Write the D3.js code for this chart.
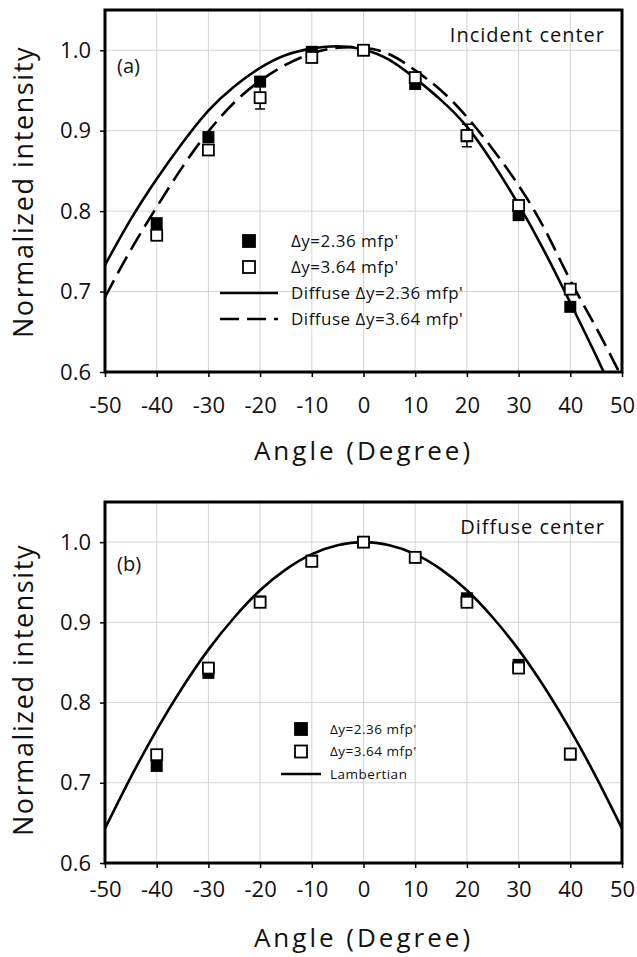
<!DOCTYPE html>
<html>
<head>
<meta charset="utf-8">
<script src="https://cdn.jsdelivr.net/npm/d3@7"></script>
<style>
  body { margin: 0; background: #fff; }
  text { font-family: "Open Sans", "DejaVu Sans", sans-serif; fill: #111; }
  .grid line { stroke: #d4d4d4; stroke-width: 1; }
</style>
</head>
<body>
<svg id="chart" width="637" height="957"></svg>
<script>
// measured angles
const angles = [-40, -30, -20, -10, 0, 10, 20, 30, 40];
// curve sample angles
const curveAngles = [-50, -45, -40, -35, -30, -25, -20, -15, -10, -5, 0, 5, 10, 15, 20, 25, 30, 35, 40, 45, 50];
const yTicks = [0.6, 0.7, 0.8, 0.9, 1.0];
const xTicks = [-50, -40, -30, -20, -10, 0, 10, 20, 30, 40, 50];

// panel (a): incident center
const aFilled = [0.785, 0.892, 0.961, 0.998, 1.000, 0.958, 0.893, 0.795, 0.681];
const aOpen = [0.770, 0.876, 0.941, 0.991, 1.000, 0.966, 0.894, 0.807, 0.703];
const aOpenErr = [0, 0, 0.014, 0, 0, 0, 0.014, 0, 0];
const aDiffuse236 = [0.733, 0.790, 0.840, 0.885, 0.925, 0.955, 0.978, 0.994, 1.002, 1.005, 1.001,
                     0.988, 0.965, 0.938, 0.905, 0.860, 0.808, 0.750, 0.686, 0.620, 0.550];
const aDiffuse364 = [0.693, 0.752, 0.805, 0.855, 0.899, 0.935, 0.962, 0.982, 0.996, 1.003, 1.003,
                     0.995, 0.975, 0.950, 0.917, 0.877, 0.832, 0.778, 0.714, 0.655, 0.593];

// panel (b): diffuse center
const bFilled = [0.721, 0.837, 0.926, 0.977, 1.000, 0.981, 0.930, 0.847, 0.735];
const bOpen = [0.735, 0.843, 0.925, 0.976, 1.000, 0.981, 0.925, 0.843, 0.736];
const lambertian = [0.643, 0.707, 0.766, 0.819, 0.866, 0.906, 0.940, 0.966, 0.985, 0.996, 1.000,
                    0.996, 0.985, 0.966, 0.940, 0.906, 0.866, 0.819, 0.766, 0.707, 0.643];

const svg = d3.select("#chart");

function drawPanel(opts) {
    const left = 105, right = 622;
    const top = opts.top, bottom = opts.bottom;

    const x = d3.scaleLinear().domain([-50, 50]).range([left, right]);
    const y = d3.scaleLinear().domain([0.6, 1.05]).range([bottom, top]);

    const g = svg.append("g");

    g.append("clipPath").attr("id", opts.id + "-clip")
        .append("rect")
        .attr("x", left).attr("y", top)
        .attr("width", right - left).attr("height", bottom - top);

    // grid
    const grid = g.append("g").attr("class", "grid");
    grid.selectAll(".gx").data(xTicks.slice(1, -1)).enter().append("line")
        .attr("x1", d => x(d)).attr("x2", d => x(d))
        .attr("y1", top).attr("y2", bottom);
    grid.selectAll(".gy").data(yTicks.slice(1)).enter().append("line")
        .attr("x1", left).attr("x2", right)
        .attr("y1", d => y(d)).attr("y2", d => y(d));

    // axes
    g.append("g")
        .attr("transform", `translate(0,${bottom})`)
        .call(d3.axisBottom(x).tickValues(xTicks).tickSize(5).tickPadding(opts.xPad).tickFormat(d => String(d)))
        .call(a => a.select(".domain").remove())
        .call(a => a.selectAll("line").attr("stroke", "#000").attr("stroke-width", 1.5))
        .call(a => a.selectAll("text").style("font-size", "22px").attr("fill", "#111"));

    g.append("g")
        .attr("transform", `translate(${left},0)`)
        .call(d3.axisLeft(y).tickValues(yTicks).tickSize(5).tickPadding(9).tickFormat(d3.format(".1f")))
        .call(a => a.select(".domain").remove())
        .call(a => a.selectAll("line").attr("stroke", "#000").attr("stroke-width", 1.5))
        .call(a => a.selectAll("text").style("font-size", "22px").attr("fill", "#111"));

    // curves
    const line = d3.line()
        .x((d, i) => x(curveAngles[i]))
        .y(d => y(d))
        .curve(d3.curveNatural);

    const curves = g.append("g").attr("clip-path", `url(#${opts.id}-clip)`);
    opts.curves.forEach(c => {
        curves.append("path")
            .datum(c.values)
            .attr("d", line)
            .attr("fill", "none")
            .attr("stroke", "#000")
            .attr("stroke-width", 2.6)
            .attr("stroke-dasharray", c.dash || null);
    });

    // error bars
    if (opts.openErr) {
        const eb = g.append("g");
        angles.forEach((a, i) => {
            const e = opts.openErr[i];
            if (!e) return;
            const v = opts.open[i];
            eb.append("line")
                .attr("x1", x(a)).attr("x2", x(a))
                .attr("y1", y(v - e)).attr("y2", y(v + e))
                .attr("stroke", "#000").attr("stroke-width", 1.5);
            [v - e, v + e].forEach(t => {
                eb.append("line")
                    .attr("x1", x(a) - 5).attr("x2", x(a) + 5)
                    .attr("y1", y(t)).attr("y2", y(t))
                    .attr("stroke", "#000").attr("stroke-width", 1.5);
            });
        });
    }

    // markers
    const s = 12;
    g.selectAll(".filled").data(opts.filled).enter().append("rect")
        .attr("x", (d, i) => x(angles[i]) - s / 2)
        .attr("y", d => y(d) - s / 2)
        .attr("width", s).attr("height", s)
        .attr("fill", "#000");

    g.selectAll(".open").data(opts.open).enter().append("rect")
        .attr("x", (d, i) => x(angles[i]) - s / 2 + 0.5)
        .attr("y", d => y(d) - s / 2 + 0.5)
        .attr("width", s - 1).attr("height", s - 1)
        .attr("fill", "#fff").attr("stroke", "#000").attr("stroke-width", 1.8);

    // frame
    g.append("rect")
        .attr("x", left).attr("y", top)
        .attr("width", right - left).attr("height", bottom - top)
        .attr("fill", "none").attr("stroke", "#000").attr("stroke-width", 3);

    // labels
    g.append("text")
        .attr("x", 117).attr("y", top + opts.tagDy)
        .style("font-size", "20px")
        .text(opts.tag);

    g.append("text")
        .attr("x", 605).attr("y", top + 32)
        .attr("text-anchor", "end")
        .style("font-size", "20px")
        .style("letter-spacing", "1px")
        .text(opts.title);

    g.append("text")
        .attr("x", (left + right) / 2).attr("y", bottom + opts.titleDy)
        .attr("text-anchor", "middle")
        .style("font-size", "26px")
        .style("letter-spacing", "3px")
        .text("Angle (Degree)");

    g.append("text")
        .attr("transform", `translate(33,${top + opts.yTitleDy}) rotate(-90)`)
        .attr("text-anchor", "middle")
        .style("font-size", "27px")
        .style("letter-spacing", "1.6px")
        .text("Normalized intensity");

    // legend
    const lg = g.append("g");
    const L = opts.legend;
    L.items.forEach((it, i) => {
        const cy = L.y + i * L.step;
        if (it.type === "filled" || it.type === "open") {
            lg.append("rect")
                .attr("x", L.symX - s / 2).attr("y", cy - s / 2)
                .attr("width", s).attr("height", s)
                .attr("fill", it.type === "filled" ? "#000" : "#fff")
                .attr("stroke", "#000").attr("stroke-width", 1.8);
        } else {
            lg.append("line")
                .attr("x1", L.lineX1).attr("x2", L.lineX2)
                .attr("y1", cy).attr("y2", cy)
                .attr("stroke", "#000").attr("stroke-width", 2.6)
                .attr("stroke-dasharray", it.dash || null);
        }
        lg.append("text")
            .attr("x", L.textX).attr("y", cy)
            .attr("dy", "0.35em")
            .style("font-size", L.fontSize)
            .style("letter-spacing", "0.5px")
            .text(it.label);
    });
}

drawPanel({
    id: "pa", top: 10, bottom: 372, tag: "(a)", tagDy: 63, title: "Incident center",
    xPad: 20, titleDy: 88, yTitleDy: 182,
    filled: aFilled, open: aOpen, openErr: aOpenErr,
    curves: [{ values: aDiffuse236 }, { values: aDiffuse364, dash: "19,8" }],
    legend: {
        y: 241, step: 26, symX: 249, lineX1: 220, lineX2: 278, textX: 291, fontSize: "17px",
        items: [
            { type: "filled", label: "\u0394y=2.36 mfp'" },
            { type: "open", label: "\u0394y=3.64 mfp'" },
            { type: "line", label: "Diffuse \u0394y=2.36 mfp'" },
            { type: "line", dash: "19,8", label: "Diffuse \u0394y=3.64 mfp'" }
        ]
    }
});

drawPanel({
    id: "pb", top: 502, bottom: 863, tag: "(b)", tagDy: 69, title: "Diffuse center",
    xPad: 13, titleDy: 84, yTitleDy: 188,
    filled: bFilled, open: bOpen, openErr: null,
    curves: [{ values: lambertian }],
    legend: {
        y: 729, step: 22.5, symX: 301, lineX1: 281, lineX2: 321, textX: 330, fontSize: "13.5px",
        items: [
            { type: "filled", label: "\u0394y=2.36 mfp'" },
            { type: "open", label: "\u0394y=3.64 mfp'" },
            { type: "line", label: "Lambertian" }
        ]
    }
});
</script>
</body>
</html>
